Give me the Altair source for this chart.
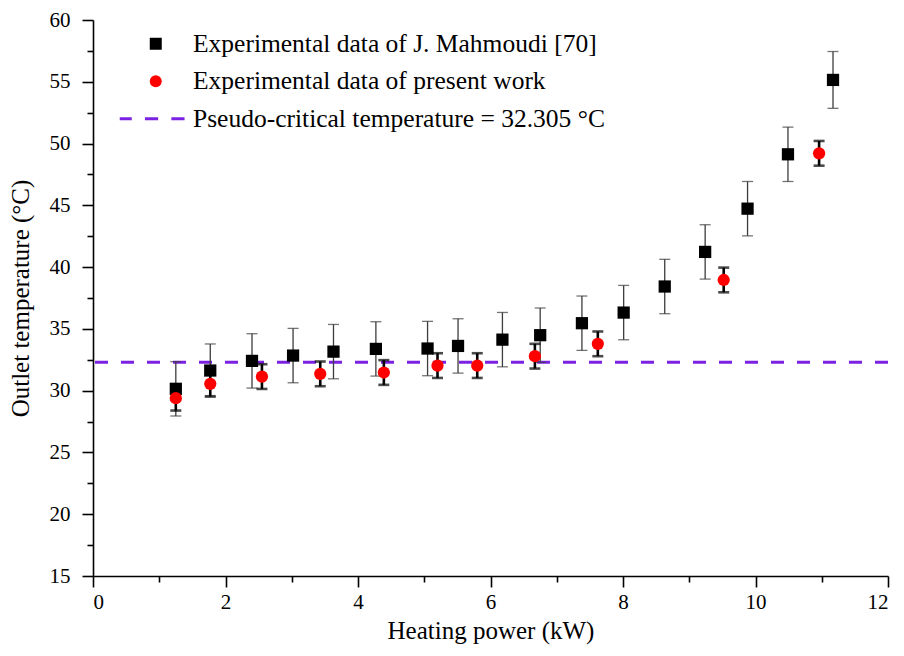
import altair as alt
import pandas as pd

# Experimental data of J. Mahmoudi [70]
mah_x = [1.25, 1.77, 2.40, 3.02, 3.63, 4.27, 5.05, 5.51, 6.18, 6.75, 7.38, 8.01, 8.63, 9.24, 9.88, 10.49, 11.17]
mah_y = [30.15, 31.63, 32.41, 32.84, 33.16, 33.38, 33.41, 33.62, 34.13, 34.49, 35.46, 36.32, 38.43, 41.23, 44.73, 49.13, 55.15]
mah_err = [2.2, 2.15, 2.2, 2.2, 2.2, 2.2, 2.2, 2.2, 2.2, 2.2, 2.2, 2.2, 2.2, 2.2, 2.2, 2.2, 2.3]

# Experimental data of present work
pw_x = [1.25, 1.77, 2.55, 3.43, 4.39, 5.20, 5.80, 6.67, 7.62, 9.52, 10.96]
pw_y = [29.39, 30.55, 31.14, 31.36, 31.47, 32.03, 32.03, 32.79, 33.79, 38.96, 49.21]
pw_err = [1.0, 1.0, 1.0, 1.0, 1.0, 1.0, 1.0, 1.0, 1.0, 1.0, 1.0]

pseudo_critical = 32.305

labels = [
    "Experimental data of J. Mahmoudi [70]",
    "Experimental data of present work",
    "Pseudo-critical temperature = 32.305 \u00b0C",
]
colors = ["#000000", "#ff0000", "#7b22e2"]
dash_path = ("M-6.0,-0.25H-4.0V0.25H-6.0Z "
             "M-1.8,-0.25H0.4V0.25H-1.8Z "
             "M2.6,-0.25H4.8V0.25H2.6Z")
shapes = ["square", "circle", dash_path]

x_ticks = list(range(0, 13))
y_ticks = [15 + 2.5 * i for i in range(19)]

mah = pd.DataFrame({"x": mah_x, "y": mah_y, "err": mah_err, "series": labels[0]})
pw = pd.DataFrame({"x": pw_x, "y": pw_y, "err": pw_err, "series": labels[1]})
for d in (mah, pw):
    d["lo"] = d["y"] - d["err"]
    d["hi"] = d["y"] + d["err"]
pts = pd.concat([mah, pw], ignore_index=True)
line_df = pd.DataFrame({"t": [pseudo_critical]})

FONT = "Liberation Serif, Times New Roman, DejaVu Serif, serif"

x_enc = alt.X(
    "x:Q",
    scale=alt.Scale(domain=[0, 12], nice=False, zero=False),
    axis=alt.Axis(
        title="Heating power (kW)",
        values=x_ticks,
        labelExpr="datum.value % 2 == 0 ? datum.label : ''",
        labelFont=FONT,
        tickSize={"condition": {"test": "datum.value % 2 != 0", "value": 6}, "value": 11},
        grid=False,
    ),
)
y_scale = alt.Scale(domain=[15, 60], nice=False, zero=False)
y_axis = alt.Axis(
    title="Outlet temperature (\u00b0C)",
    values=y_ticks,
    labelExpr="datum.value % 5 == 0 ? datum.label : ''",
    labelFont=FONT,
    tickSize={"condition": {"test": "datum.value % 5 != 0", "value": 6}, "value": 11},
    grid=False,
)

rule = alt.Chart(line_df).mark_rule(
    color=colors[2], strokeWidth=3, strokeDash=[13, 13]
).encode(y=alt.Y("t:Q", scale=y_scale, axis=y_axis))

def err_layers(df, color, width, cap):
    base = alt.Chart(df)
    stem = base.mark_rule(color=color, strokeWidth=width).encode(
        x=x_enc, y=alt.Y("lo:Q", scale=y_scale, axis=y_axis), y2="hi:Q"
    )
    lo_cap = base.mark_point(shape="stroke", size=cap, color=color, strokeWidth=width).encode(
        x=x_enc, y=alt.Y("lo:Q", scale=y_scale, axis=y_axis)
    )
    hi_cap = base.mark_point(shape="stroke", size=cap, color=color, strokeWidth=width).encode(
        x=x_enc, y=alt.Y("hi:Q", scale=y_scale, axis=y_axis)
    )
    return [stem, lo_cap, hi_cap]

legend = alt.Legend(
    title=None,
    orient="none",
    legendX=50,
    legendY=11,
    labelFont=FONT,
    labelFontSize=25.5,
    labelColor="#000000",
    labelOffset=24.5,
    labelLimit=0,
    symbolSize=144,
    symbolStrokeWidth=0,
    rowPadding=10.5,
    padding=0,
)

points = alt.Chart(pts).mark_point(filled=True, size=150, opacity=1).encode(
    x=x_enc,
    y=alt.Y("y:Q", scale=y_scale, axis=y_axis),
    color=alt.Color("series:N", scale=alt.Scale(domain=labels, range=colors), legend=legend),
    shape=alt.Shape("series:N", scale=alt.Scale(domain=labels, range=shapes), legend=legend),
)

layers = [rule] + err_layers(mah, "#3c3c3c", 1.3, 121) + err_layers(pw, "#000000", 2.6, 121) + [points]

chart = alt.layer(*layers).properties(
    width=795,
    height=556,
    padding={"left": 93, "top": 20, "right": 16, "bottom": 80},
    autosize=alt.AutoSizeParams(type="none"),
).configure_view(stroke="transparent").configure_axis(
    domainColor="#000000",
    domainWidth=1.6,
    tickColor="#000000",
    tickWidth=1.6,
    labelFont=FONT,
    labelFontSize=21,
    labelColor="#000000",
    titleFont=FONT,
    titleFontSize=25,
    titleFontWeight="normal",
    titleColor="#000000",
).configure_axisX(
    labelPadding=4,
    titlePadding=6,
).configure_axisY(
    labelPadding=12,
    titlePadding=16,
)

chart.save("out.html", embed_options={"renderer": "svg", "actions": False})
